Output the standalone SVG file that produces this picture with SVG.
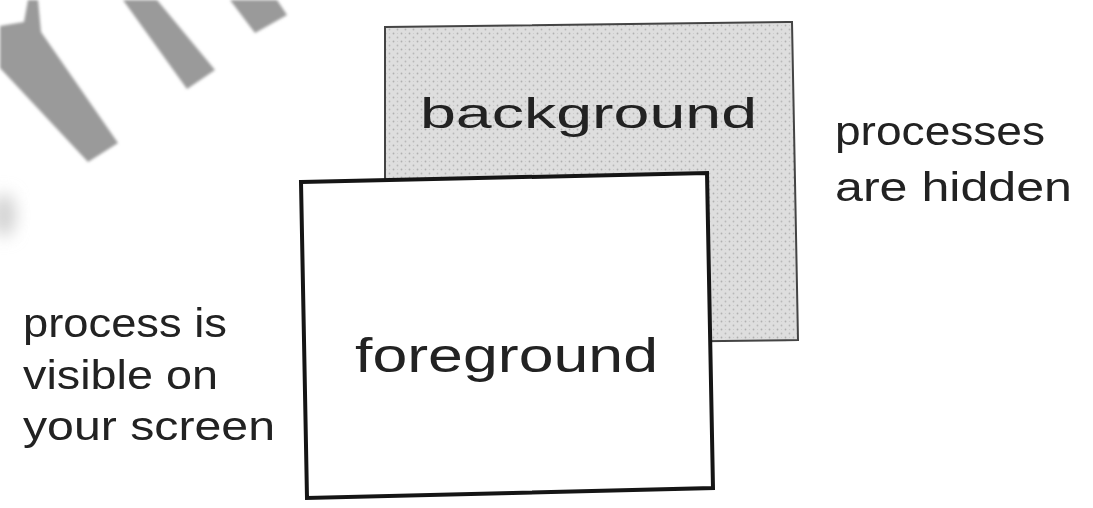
<svg xmlns="http://www.w3.org/2000/svg" width="1093" height="508" viewBox="0 0 1093 508">
  <style>
    .lbl { font-family: "Liberation Sans", "DejaVu Sans", sans-serif; fill: #222; }
    .streak { fill: #9a9a9a; }
  </style>
  <defs>
    <pattern id="dots" width="8" height="8" patternUnits="userSpaceOnUse">
      <rect width="8" height="8" fill="#dedede"/>
      <circle cx="1.5" cy="1.5" r="0.9" fill="#b0b0b0"/>
      <circle cx="5.5" cy="5.5" r="0.9" fill="#b8b8b8"/>
      <circle cx="5.5" cy="1.5" r="0.6" fill="#cacaca"/>
    </pattern>
    <filter id="soft" x="-20%" y="-20%" width="140%" height="140%">
      <feGaussianBlur stdDeviation="1.6"/>
    </filter>
    <filter id="blur8" x="-50%" y="-50%" width="200%" height="200%">
      <feGaussianBlur stdDeviation="8"/>
    </filter>
  </defs>
  <rect width="1093" height="508" fill="#ffffff"/>

  <g id="streaks" filter="url(#soft)">
    <polygon class="streak" points="0,26 24,22 28,0 38,0 41,32 118,143 88,162 0,68"/>
    <polygon class="streak" points="123,0 157,0 215,70 187,89"/>
    <polygon class="streak" points="230,0 277,0 287,15 255,33"/>
    <ellipse cx="4" cy="215" rx="12" ry="22" fill="#d2d2d2" filter="url(#blur8)"/>
  </g>

  <g id="background">
    <polygon points="385,27 792,22 798,340 385,345" fill="url(#dots)" stroke="#444" stroke-width="2"/>
    <text class="lbl" x="420" y="128" font-size="42" textLength="337" lengthAdjust="spacingAndGlyphs">background</text>
  </g>

  <g id="foreground">
    <polygon points="301,182 707,173 713,488 307,498" fill="#ffffff" stroke="#151515" stroke-width="4" stroke-linejoin="miter"/>
    <text class="lbl" x="355" y="372" font-size="48" textLength="303" lengthAdjust="spacingAndGlyphs">foreground</text>
  </g>

  <g id="label-hidden">
    <text class="lbl" x="835" y="145" font-size="40" textLength="210" lengthAdjust="spacingAndGlyphs">processes</text>
    <text class="lbl" x="835" y="201" font-size="40" textLength="237" lengthAdjust="spacingAndGlyphs">are hidden</text>
  </g>

  <g id="label-visible">
    <text class="lbl" x="23" y="337" font-size="40" textLength="204" lengthAdjust="spacingAndGlyphs">process is</text>
    <text class="lbl" x="23" y="389" font-size="40" textLength="195" lengthAdjust="spacingAndGlyphs">visible on</text>
    <text class="lbl" x="23" y="440" font-size="40" textLength="252" lengthAdjust="spacingAndGlyphs">your screen</text>
  </g>

  <g id="connectors"/>
</svg>
